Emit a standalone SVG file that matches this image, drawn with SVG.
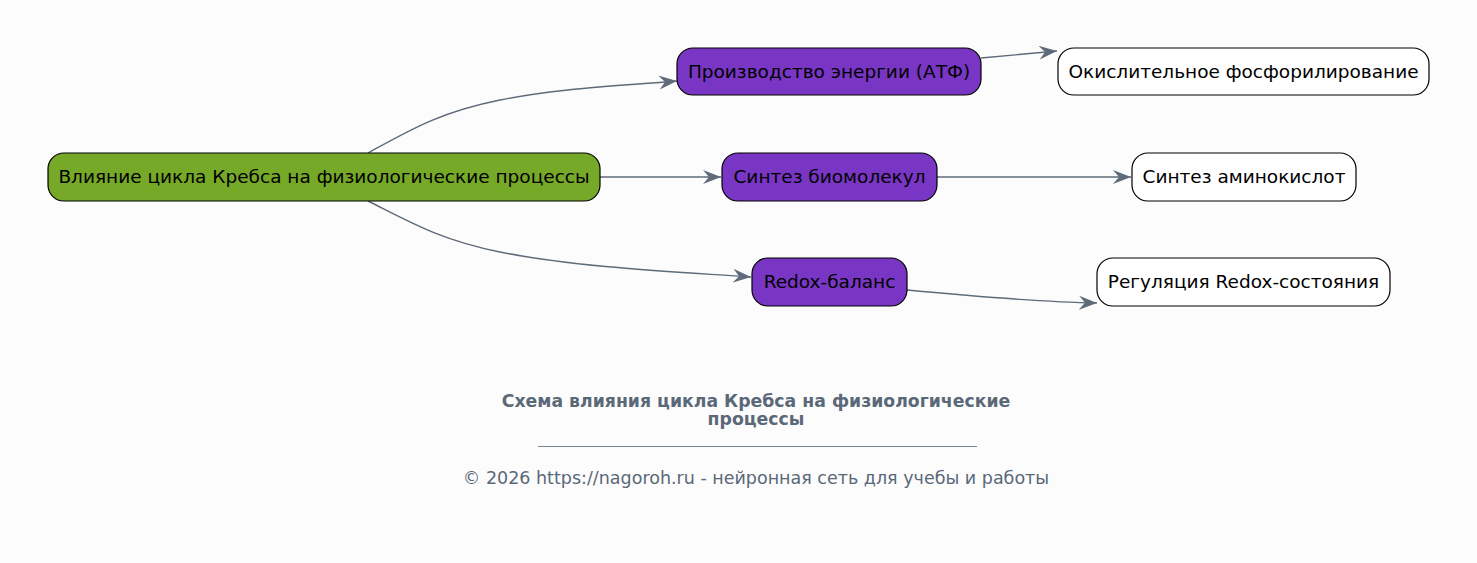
<svg xmlns="http://www.w3.org/2000/svg" width="1477" height="563" viewBox="0 0 1477 563">
<defs>
<style>
.n text{font-family:"DejaVu Sans",sans-serif;font-size:18.5px;fill:#000;text-anchor:middle}
.n rect{stroke:#000;stroke-width:1.2}
.root rect{fill:#77a928}
.mid rect{fill:#7936c4}
.leaf rect{fill:#fff}
.e path{fill:none;stroke:#5f6b7a;stroke-width:1.4}
.t{font-family:"DejaVu Sans",sans-serif;fill:#5a6878;text-anchor:middle}
</style>
<marker id="a" markerWidth="20" markerHeight="14" refX="18" refY="7" orient="auto" markerUnits="userSpaceOnUse">
<path d="M0,0 L18,7 L0,14 L6,7 z" fill="#5f6b7a"/>
</marker>
</defs>
<rect width="1477" height="563" fill="#fcfcfc"/>
<g id="edges" class="e">
<path d="M368,153 C410,130 440,112 500,100 C560,88 620,86 677,81" marker-end="url(#a)"/>
<path d="M600,177 L721,177" marker-end="url(#a)"/>
<path d="M368,201 C410,222 440,240 500,252 C580,268 680,272 751,277" marker-end="url(#a)"/>
<path d="M981,58 L1057,51" marker-end="url(#a)"/>
<path d="M937,177 L1131,177" marker-end="url(#a)"/>
<path d="M907,290 C960,295 1040,302 1097,303" marker-end="url(#a)"/>
</g>
<g id="root" class="n root"><rect x="48" y="153" width="552" height="48" rx="16"/><text x="324" y="182.5">Влияние цикла Кребса на физиологические процессы</text></g>
<g id="atp" class="n mid"><rect x="677" y="48" width="304" height="47" rx="16"/><text x="829" y="77.5">Производство энергии (АТФ)</text></g>
<g id="bio" class="n mid"><rect x="722" y="153" width="215" height="48" rx="16"/><text x="829.5" y="182.5">Синтез биомолекул</text></g>
<g id="redox" class="n mid"><rect x="752" y="258" width="155" height="48" rx="16"/><text x="829.5" y="287.5">Redox-баланс</text></g>
<g id="oxphos" class="n leaf"><rect x="1058" y="48" width="371" height="47" rx="16"/><text x="1243.5" y="77.5">Окислительное фосфорилирование</text></g>
<g id="amino" class="n leaf"><rect x="1132" y="153" width="224" height="48" rx="16"/><text x="1244" y="182.5">Синтез аминокислот</text></g>
<g id="reg" class="n leaf"><rect x="1097" y="258" width="293" height="48" rx="16"/><text x="1243.5" y="287.5">Регуляция Redox-состояния</text></g>
<g id="caption">
<text class="t" x="756" y="407" font-size="17.3" font-weight="bold">Схема влияния цикла Кребса на физиологические</text>
<text class="t" x="756" y="425" font-size="17.3" font-weight="bold">процессы</text>
<line x1="538" y1="446.5" x2="977" y2="446.5" stroke="#7a8592" stroke-width="1"/>
<text class="t" x="756" y="484" font-size="17.5">© 2026 https://nagoroh.ru - нейронная сеть для учебы и работы</text>
</g>
</svg>
